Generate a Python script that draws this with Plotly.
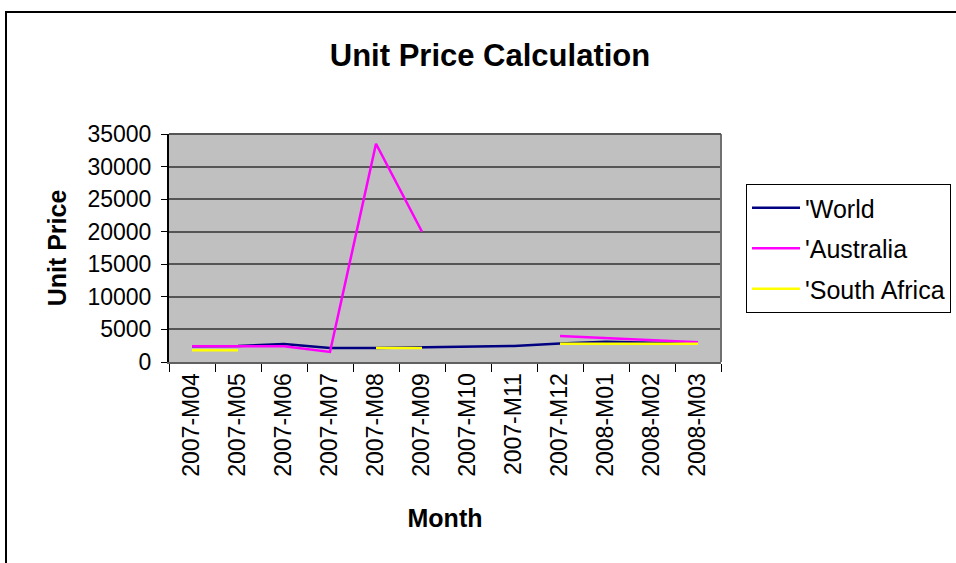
import plotly.graph_objects as go

months = ["2007-M04", "2007-M05", "2007-M06", "2007-M07", "2007-M08", "2007-M09",
          "2007-M10", "2007-M11", "2007-M12", "2008-M01", "2008-M02", "2008-M03"]
world = [2400, 2450, 2750, 2150, 2150, 2250, 2450, 2450, 2850, 3100, 2950, 2850]
australia = [2400, 2400, 2400, 1550, 33500, 20000, None, None, 4000, 3700, 3350, 3050]
south_africa = [1800, 1800, None, None, 2150, 2150, None, None, 2800, 2800, 2800, 2800]
y_ticks = [0, 5000, 10000, 15000, 20000, 25000, 30000, 35000]
y_tick_labels = ["0", "5000", "10000", "15000", "20000", "25000", "30000", "35000"]

FONT = "Liberation Sans, Arial, Helvetica, sans-serif"

W, H = 956, 563
L, R, T, B = 169, 721, 134, 362  # plot area pixel box
pw, ph = R - L, B - T

def px(x):
    return (x - L) / pw

def py(y):
    return (B - y) / ph

fig = go.Figure()
series = [("'World", world, "#000080"),
          ("'Australia", australia, "#FF00FF"),
          ("'South Africa", south_africa, "#FFFF00")]
for i, (name, vals, col) in enumerate(series):
    fig.add_trace(go.Scatter(x=months, y=vals, name=name, mode="lines",
                             line=dict(color=col, width=2.5), connectgaps=False,
                             legendgroup=f"g{i}"))

fig.update_layout(
    width=W, height=H,
    margin=dict(l=L, r=W - R, t=T, b=H - B, autoexpand=False),
    paper_bgcolor="white",
    plot_bgcolor="#C0C0C0",
    font=dict(family=FONT, color="black", size=22),
    title=dict(text="<b>Unit Price Calculation</b>", font=dict(size=31, family=FONT),
               x=490 / W, xref="container", xanchor="center",
               y=1 - 55 / H, yref="container", yanchor="middle"),
    showlegend=True,
    legend=dict(x=px(746), y=py(184), xanchor="left", yanchor="top",
                bordercolor="black", borderwidth=1, bgcolor="white",
                font=dict(size=25, family=FONT), tracegroupgap=5,
                itemwidth=48),
    xaxis=dict(
        type="category", tickangle=-90, tickson="boundaries",
        ticks="outside", ticklen=8, tickcolor="black", tickwidth=1,
        showline=True, linecolor="#606060", linewidth=2, mirror=False,
        showgrid=False, tickfont=dict(size=23, family=FONT),
        title=dict(text="<b>Month</b>", font=dict(size=25, family=FONT), standoff=34),
        range=[-0.5, 11.5], fixedrange=True,
    ),
    yaxis=dict(
        range=[0, 35000], tickvals=y_ticks, ticktext=y_tick_labels,
        ticks="outside", ticklen=6, ticklabelstandoff=5,
        tickcolor="black", showline=True, linecolor="black", linewidth=2,
        showgrid=True, gridcolor="#555555", gridwidth=2, zeroline=False,
        tickfont=dict(size=23, family=FONT),
        title=dict(text="<b>Unit Price</b>", font=dict(size=25, family=FONT), standoff=14),
        fixedrange=True,
    ),
)

# plot area right and top edges
fig.add_shape(type="line", xref="paper", yref="paper", x0=1, x1=1, y0=0, y1=1,
              line=dict(color="#707070", width=2))
fig.add_shape(type="line", xref="paper", yref="paper", x0=0, x1=1, y0=1, y1=1,
              line=dict(color="#555555", width=2))
# chart outer border (extends beyond the window on right/bottom)
fig.add_shape(type="rect", xref="paper", yref="paper",
              x0=px(6), x1=px(970), y0=py(580), y1=py(12),
              line=dict(color="black", width=2), fillcolor="rgba(0,0,0,0)", layer="below")

fig.write_html("out.html", config={"displayModeBar": False},
               post_script="document.body.style.margin='0';document.body.style.overflow='hidden';")
